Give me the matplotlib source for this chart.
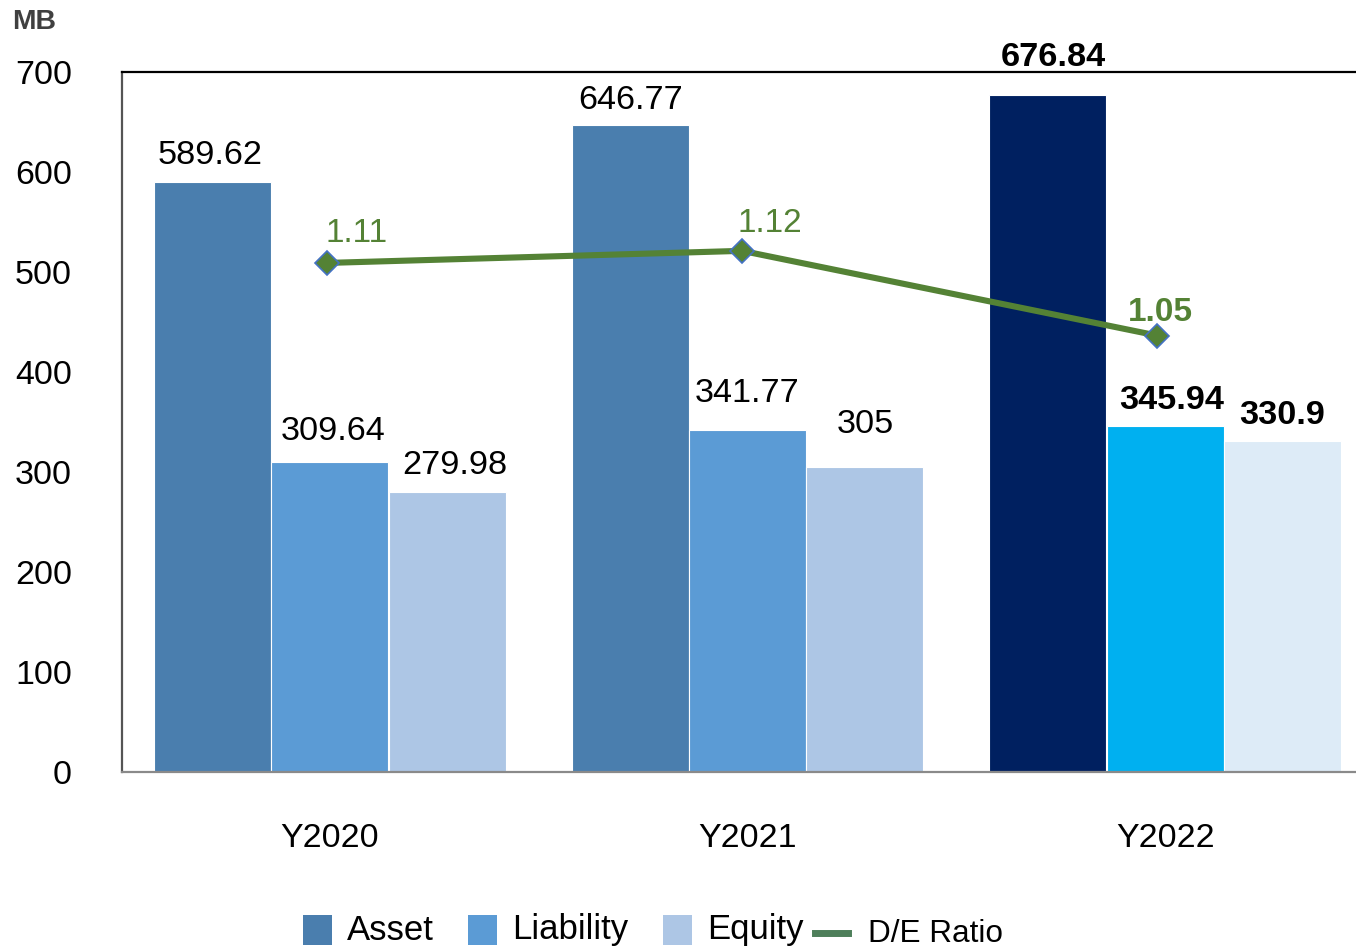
import matplotlib
matplotlib.use("Agg")
import matplotlib.pyplot as plt
import numpy as np
from matplotlib.patches import Rectangle
from matplotlib.lines import Line2D

plt.rcParams['font.family'] = ['Liberation Sans', 'DejaVu Sans']

years = ["Y2020", "Y2021", "Y2022"]
asset = [589.62, 646.77, 676.84]
liability = [309.64, 341.77, 345.94]
equity = [279.98, 305, 330.9]
de_ratio = [1.11, 1.12, 1.05]
asset_labels = ["589.62", "646.77", "676.84"]
liab_labels = ["309.64", "341.77", "345.94"]
eq_labels = ["279.98", "305", "330.9"]
de_labels = ["1.11", "1.12", "1.05"]
legend_names = ["Asset", "Liability", "Equity", "D/E Ratio"]

asset_colors = ["#4A7EAE", "#4A7EAE", "#002060"]
liab_colors = ["#5B9BD5", "#5B9BD5", "#00B0F0"]
eq_colors = ["#ADC6E5", "#ADC6E5", "#DDEBF7"]
line_color = "#548235"

# label offsets in pixels (dx, dy above bar top to baseline)
asset_off = [(-3, 18), (0, 16), (5, 29)]
liab_off = [(3, 22), (0, 28), (6, 17)]
eq_off = [(8, 18), (0, 34), (0, 17)]
de_off = [(30, 21), (28, 19), (3, 15)]

W, H = 1356, 948
PT = 0.72  # points per pixel at dpi 100
fig = plt.figure(figsize=(W/100, H/100), dpi=100)
rect = [122/W, 1-772/H, (1356-122)/W, 700/H]
ax = fig.add_axes(rect)

x = np.arange(len(years))
bw = 0.28
off = 0.281
ax.bar(x - off, asset, bw, color=asset_colors, edgecolor="white", linewidth=0.8)
ax.bar(x, liability, bw, color=liab_colors, edgecolor="white", linewidth=0.8)
ax.bar(x + off, equity, bw, color=eq_colors, edgecolor="white", linewidth=0.8)

ax.set_xlim(-0.498, 2.457)
ax.set_ylim(0, 700)
ax.set_yticks(range(0, 701, 100))
ax.set_xticks(x)
ax.set_xticklabels(years)
ax.tick_params(axis='y', length=0, labelsize=24.5, pad=36)
ax.tick_params(axis='x', length=0, labelsize=24.5, pad=37)
ax.spines['right'].set_visible(False)
ax.spines['top'].set_color('black')
ax.spines['top'].set_linewidth(1.6)
ax.spines['left'].set_color('#555555')
ax.spines['left'].set_linewidth(1.6)
ax.spines['bottom'].set_color('#8a8a8a')
ax.spines['bottom'].set_linewidth(1.6)

for i in range(3):
    bold = 'bold' if i == 2 else 'normal'
    for xs, vals, labs, offs in [(x - off, asset, asset_labels, asset_off),
                                 (x, liability, liab_labels, liab_off),
                                 (x + off, equity, eq_labels, eq_off)]:
        ax.annotate(labs[i], (xs[i], vals[i]), xytext=(offs[i][0]*PT, offs[i][1]*PT),
                    textcoords='offset points', ha='center', va='baseline',
                    fontsize=24.7, fontweight=bold, color='black', annotation_clip=False)

ax2 = fig.add_axes(rect, sharey=None)
ax2.patch.set_visible(False)
ax2.set_xlim(-0.494, 2.4795)
ax2.set_ylim(0.6893, 1.2678)
ax2.axis('off')
ax2.plot(x, de_ratio, color=line_color, linewidth=4.4, marker='D', markersize=12.5,
         markerfacecolor=line_color, markeredgecolor="#4472C4", markeredgewidth=1.2, zorder=5)
for i in range(3):
    ax2.annotate(de_labels[i], (x[i], de_ratio[i]), xytext=(de_off[i][0]*PT, de_off[i][1]*PT),
                 textcoords='offset points', ha='center', va='baseline',
                 fontsize=24, color=line_color, fontweight='bold' if i == 2 else 'normal')

fig.text(12/W, 1-22/H, "MB", fontsize=20.4, fontweight='bold', color='#404040', va='center')

# legend drawn manually
leg_cy = 1 - 930/H
legend_colors = ["#4A7EAE", "#5B9BD5", "#ADC6E5"]
patch_x = [303, 468, 663]
text_x = [347, 512, 707]
for px, tx, c, name in zip(patch_x, text_x, legend_colors, legend_names[:3]):
    fig.patches.append(Rectangle((px/W, 1-945/H), 29/W, 30/H, transform=fig.transFigure,
                                 facecolor=c, edgecolor='none'))
    fig.text(tx/W, leg_cy, name, fontsize=25, va='center', ha='left', color='black')
fig.lines.append(Line2D([815/W, 848/W], [1-933/H, 1-933/H], transform=fig.transFigure,
                        color="#4E7F5A", linewidth=5))
fig.text(868/W, 1-934/H, legend_names[3], fontsize=22.7, va='center', ha='left', color='black')

fig.savefig("out.png", dpi=100)
